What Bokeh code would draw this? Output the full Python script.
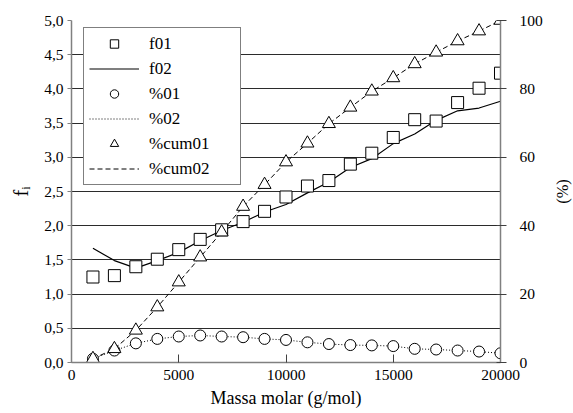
import math
from bokeh.plotting import figure
from bokeh.models import (Range1d, LinearAxis, FixedTicker, CustomJSTickFormatter,
                          Legend, LegendItem, Label)
from bokeh.embed import file_html
from bokeh.resources import INLINE

# ---- data ----
mass = [1000, 2000, 3000, 4000, 5000, 6000, 7000, 8000, 9000, 10000,
        11000, 12000, 13000, 14000, 15000, 16000, 17000, 18000, 19000, 20000]
f01 = [1.25, 1.27, 1.40, 1.51, 1.65, 1.80, 1.94, 2.06, 2.21, 2.42,
       2.58, 2.66, 2.90, 3.06, 3.29, 3.55, 3.53, 3.80, 4.01, 4.23]
f02 = [1.67, 1.49, 1.38, 1.49, 1.61, 1.78, 1.93, 2.05, 2.20, 2.31,
       2.48, 2.64, 2.85, 2.98, 3.20, 3.34, 3.54, 3.68, 3.72, 3.82]
pct01 = [1.1, 3.5, 5.6, 6.9, 7.6, 7.9, 7.6, 7.4, 6.9, 6.6,
         5.9, 5.4, 5.1, 5.0, 4.8, 4.0, 3.8, 3.5, 3.2, 2.7]
pct02 = [1.1, 3.5, 5.6, 6.9, 7.6, 7.9, 7.6, 7.4, 6.9, 6.6,
         5.9, 5.4, 5.1, 5.0, 4.8, 4.0, 3.8, 3.5, 3.2, 2.7]
cum01 = [1.1, 4.0, 9.4, 16.2, 23.5, 30.8, 38.1, 45.6, 52.0, 58.6,
         64.1, 69.8, 74.6, 79.3, 83.2, 87.3, 90.7, 94.0, 96.9, 100.0]
cum02 = [1.1, 4.0, 9.4, 16.2, 23.5, 30.8, 38.1, 45.6, 52.0, 58.6,
         64.1, 69.8, 74.6, 79.3, 83.2, 87.3, 90.7, 94.0, 96.9, 100.0]
left_ticks = [0.0, 0.5, 1.0, 1.5, 2.0, 2.5, 3.0, 3.5, 4.0, 4.5, 5.0]
right_ticks = [0, 20, 40, 60, 80, 100]
x_ticks = [0, 5000, 10000, 15000, 20000]
x_label = "Massa molar (g/mol)"
left_label = "f\u1d62"
right_label = "(%)"

FONT = "Liberation Serif"
AXIS_COLOR = "#808080"
TICK_SIZE = "15.5px"

p = figure(width=573, height=413, x_range=Range1d(0, 20000), y_range=Range1d(0, 5),
           output_backend="svg", toolbar_location=None,
           min_border_left=71, min_border_right=73, min_border_top=20, min_border_bottom=51)
p.outline_line_color = None
p.background_fill_color = "white"
p.border_fill_color = "white"

p.extra_y_ranges = {"pct": Range1d(0, 100)}

# grid
p.xgrid.visible = False
p.ygrid.ticker = FixedTicker(ticks=left_ticks)
p.ygrid.grid_line_color = "#2b2b2b"
p.ygrid.grid_line_width = 1.2

# x axis
xa = p.xaxis[0]
xa.ticker = FixedTicker(ticks=x_ticks)
xa.axis_line_color = AXIS_COLOR
xa.axis_line_width = 1.5
xa.major_tick_line_color = "#404040"
xa.major_tick_in = 8
xa.major_tick_out = 0
xa.minor_tick_line_color = None
xa.major_label_text_font = FONT
xa.major_label_text_font_size = TICK_SIZE
xa.major_label_text_color = "black"
xa.major_label_standoff = 7
xa.axis_label = x_label
xa.axis_label_text_font = FONT
xa.axis_label_text_font_size = "18px"
xa.axis_label_text_font_style = "normal"
xa.axis_label_text_color = "black"
xa.axis_label_standoff = 5

# left axis
ya = p.yaxis[0]
ya.ticker = FixedTicker(ticks=left_ticks)
ya.formatter = CustomJSTickFormatter(code="return tick.toFixed(1).replace('.', ',');")
ya.axis_line_color = AXIS_COLOR
ya.axis_line_width = 1.5
ya.major_tick_line_color = AXIS_COLOR
ya.major_tick_line_width = 1.2
ya.major_tick_in = 0
ya.major_tick_out = 4
ya.minor_tick_line_color = None
ya.major_label_text_font = FONT
ya.major_label_text_font_size = TICK_SIZE
ya.major_label_text_color = "black"
ya.major_label_standoff = 4
ya.axis_label = left_label
ya.axis_label_text_font = FONT
ya.axis_label_text_font_size = "20px"
ya.axis_label_text_font_style = "normal"
ya.axis_label_text_color = "black"
ya.axis_label_standoff = 9

# right axis
ra = LinearAxis(y_range_name="pct", ticker=FixedTicker(ticks=right_ticks))
ra.axis_line_color = AXIS_COLOR
ra.axis_line_width = 1.5
ra.major_tick_line_color = "#404040"
ra.major_tick_in = 4
ra.major_tick_out = 6
ra.minor_tick_line_color = None
ra.major_label_text_font = FONT
ra.major_label_text_font_size = TICK_SIZE
ra.major_label_text_color = "black"
ra.major_label_standoff = 13
p.add_layout(ra, "right")

# right-hand title "(%)" placed in the right side panel
p.add_layout(Label(x=17, y=171, x_units="screen", y_units="screen", text=right_label,
                   angle=math.pi / 2, text_font=FONT, text_font_size="16.5px",
                   text_align="center", text_baseline="middle", text_color="black"),
             "right")

# lines
r_f02 = p.line(mass, f02, line_color="black", line_width=1.2)
r_p02 = p.line(mass, pct02, y_range_name="pct", line_color="black", line_width=1,
               line_dash="1 2")
r_c02 = p.line(mass, cum02, y_range_name="pct", line_color="black", line_width=1,
               line_dash="5 3")
# markers
r_f01 = p.scatter(mass, f01, marker="square", size=12, fill_color="white",
                  line_color="black", line_width=1)
r_p01 = p.scatter(mass, pct01, y_range_name="pct", marker="circle", size=11,
                  fill_color="white", line_color="black", line_width=1)
r_c01 = p.scatter(mass, cum01, y_range_name="pct", marker="triangle", size=13,
                  fill_color="white", line_color="black", line_width=1)

legend = Legend(items=[
    LegendItem(label="f01", renderers=[r_f01]),
    LegendItem(label="f02", renderers=[r_f02]),
    LegendItem(label="%01", renderers=[r_p01]),
    LegendItem(label="%02", renderers=[r_p02]),
    LegendItem(label="%cum01", renderers=[r_c01]),
    LegendItem(label="%cum02", renderers=[r_c02]),
], location=(12, 177))
legend.label_text_font = FONT
legend.label_text_font_size = "17px"
legend.label_text_color = "black"
legend.glyph_height = 21
legend.label_height = 21
legend.glyph_width = 50
legend.label_standoff = 10
legend.label_width = 86
legend.spacing = 4
legend.padding = 5
legend.margin = 0
legend.border_line_color = "black"
legend.border_line_width = 1
legend.background_fill_color = "white"
legend.background_fill_alpha = 1
p.add_layout(legend, "center")

open("out.html", "w").write(file_html(p, INLINE))
